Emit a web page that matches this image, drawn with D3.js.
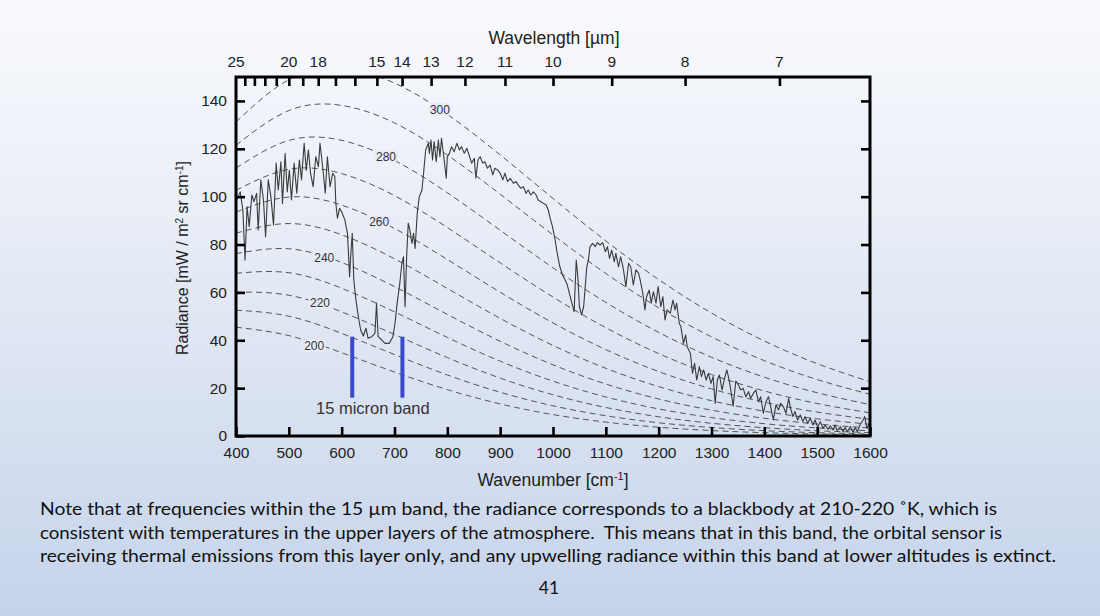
<!DOCTYPE html>
<html>
<head>
<meta charset="utf-8">
<script src="https://cdn.jsdelivr.net/npm/d3@7"></script>
<style>
body { margin: 0; }
svg { display: block; font-family: "Liberation Sans", Arial, sans-serif; }
</style>
</head>
<body>
<svg id="chart" width="1100" height="616"></svg>
<script>
// blackbody curves, sampled every 100 cm-1
var bbNu = [400, 500, 600, 700, 800, 900, 1000, 1100, 1200, 1300, 1400, 1500, 1600];
var bbTemps = [200, 210, 220, 230, 240, 250, 260, 270, 280, 290, 300];
var bb200 = [45.45, 41.95, 34.80, 26.73, 19.37, 13.41, 8.95, 5.80, 3.67, 2.27, 1.38, 0.83, 0.49];
var bb210 = [52.59, 50.06, 42.88, 34.04, 25.50, 18.27, 12.62, 8.46, 5.53, 3.55, 2.23, 1.38, 0.85];
var bb220 = [60.12, 58.82, 51.87, 42.42, 32.76, 24.19, 17.23, 11.92, 8.04, 5.32, 3.45, 2.21, 1.39];
var bb230 = [68.00, 68.22, 61.75, 51.88, 41.18, 31.27, 22.91, 16.30, 11.31, 7.69, 5.14, 3.38, 2.20];
var bb240 = [76.22, 78.22, 72.50, 62.42, 50.81, 39.58, 29.75, 21.72, 15.47, 10.80, 7.40, 5.00, 3.33];
var bb250 = [84.75, 88.77, 84.08, 74.04, 61.66, 49.16, 37.84, 28.28, 20.64, 14.75, 10.36, 7.16, 4.89];
var bb260 = [93.56, 99.86, 96.47, 86.71, 73.76, 60.08, 47.25, 36.10, 26.92, 19.67, 14.12, 9.99, 6.97];
var bb270 = [102.63, 111.44, 109.63, 100.41, 87.08, 72.35, 58.05, 45.25, 34.44, 25.68, 18.82, 13.58, 9.67];
var bb280 = [111.94, 123.49, 123.53, 115.12, 101.64, 86.00, 70.28, 55.83, 43.30, 32.90, 24.57, 18.07, 13.12];
var bb290 = [121.47, 135.97, 138.13, 130.81, 117.42, 101.04, 84.01, 67.90, 53.58, 41.44, 31.49, 23.58, 17.42];
var bb300 = [131.20, 148.87, 153.39, 147.45, 134.40, 117.46, 99.24, 81.51, 65.38, 51.39, 39.71, 30.22, 22.70];

// curve labels
var labelT = [200, 220, 240, 260, 280, 300];
var labelNu = [548, 559, 567, 671, 684, 786];
var labelRad = [37.5, 55.5, 74.5, 89.5, 116.5, 136.5];

// measured spectrum
var specNu = [401,408,413,417,421,425,430,434,439,442,447,452,456,461,466,471,476,480,485,488,493,497,501,505,510,515,520,524,529,533,537,541,546,551,556,559,564,569,573,578,583,587,589,592,596,600,606,611,615,617,620,623,627,632,636,641,646,650,657,663,666,669,676,682,690,697,701,705,710,714,717,720,723,726,729,733,736,739,743,747,752,755,759,764,
  766,769,772,775,779,783,786,789,794,798,800,804,808,813,818,823,827,832,837,842,846,851,854,858,862,867,871,876,881,886,890,895,900,905,909,914,919,925,930,934,939,944,949,953,958,963,968,972,977,982,987,991,994,999,1004,1008,1013,1018,1023,1027,1031,1035,1040,1044,1047,1050,1054,1058,1061,1064,1067,1070,1075,1080,1084,1089,1094,1099,1103,1107,1111,1116,1119,1124,1128,1133,1138,1143,1147,1152,1157,1162,
  1165,1170,1174,1177,1182,1186,1190,1195,1199,1204,1208,1212,1216,1222,1227,1231,1234,1239,1242,1247,1251,1254,1260,1264,1268,1272,1277,1281,1285,1290,1294,1299,1303,1307,1311,1315,1320,1324,1329,1332,1335,1341,1346,1351,1355,1360,1365,1370,1374,1379,1384,1389,1393,1398,1403,1408,1412,1417,1422,1427,1431,1436,1441,1446,1449,1454,1458,1463,1468,1473,1477,1482,1487,1492,1496,1501,1506,1511,1515,1520,1525,1530,1534,1538,1544,1549,1553,1557,1563,1568,1572,1576,1581,1587,1590,1594,1599];
var specRad = [98.6,102,94.4,73.5,95.8,87.5,100.7,97.9,101.4,86.1,107,98.6,83.3,107,100,88.2,114,102.8,114.6,97.2,118,102,111,98.6,114,101.4,115.3,107,122.3,111,119.5,109.8,104.2,116.7,112.5,122.3,112.5,101.4,116.7,104.2,109.8,108.4,97.2,91,95.1,93.7,90.3,84.7,66.6,74.9,84.7,65.2,56.8,49.2,44.3,41.8,45,40.8,41.5,42.9,55.5,41.5,40.1,38.7,38.7,41.5,47.1,55.5,63.8,72.2,74.9,54,74.9,88.9,86.1,80.5,84.7,78.4,93,100,102.8,109.8,119.5,122.3,
  118.1,123.7,115.3,123,114.6,123.7,116.7,124.4,115.3,107.7,116.7,118.1,120.9,118.8,122.3,119.5,120.9,118.1,120.2,116.7,114,116,107.7,115.3,116.7,114,114.6,111.9,113.2,109.1,111.9,111.2,109.8,107,109.8,106.3,107.7,105.6,106.3,104.9,103.5,104.2,101.4,102.8,100.7,102,100.7,98.6,97.9,97.2,96.5,94.4,91.6,87.5,81.9,76.3,70.7,67.3,65.2,63.1,59.6,56.1,51.9,73.5,66.6,54,50.6,54,62.4,70.7,73.5,79.1,80.5,79.1,80.8,79.8,80.8,77,79.1,74.2,77.7,72.8,76.3,70.7,74.9,70,62.4,72.2,70.7,63.1,69.4,68,
  65.2,59.6,52.7,58.2,61,55.5,60.3,55.5,62.4,54,58.2,48.5,52.7,51.3,56.8,52.7,55.5,47.1,45.7,38.7,42.2,37.3,34.6,26.2,30.4,23.4,29,24.8,27.6,23.4,26.2,22,24.8,13.6,23.4,25.5,19.2,23.4,27.6,24.8,21.3,12.5,23,21.3,19.2,19.9,16.4,18.5,15.7,17.8,19.2,14.3,16.4,9.5,14.3,16.4,12.2,6.7,13,10.9,13.7,12.2,9.5,15.7,12.2,8.1,10.2,6.7,8.8,6,8.1,5.3,7.4,4.6,6.7,3.6,6,3.2,4.6,2.8,4.2,2.5,4.6,2.2,3.9,1.8,3.6,1.8,3.9,1.4,3.6,1.8,4.6,6.7,8.1,3.2,5.3];

// axes
var nuTicks = [400, 500, 600, 700, 800, 900, 1000, 1100, 1200, 1300, 1400, 1500, 1600];
var radTicks = [0, 20, 40, 60, 80, 100, 120, 140];
var waveTicks = [24, 23, 22, 21, 20, 19, 18, 17, 16, 15, 14, 13, 12, 11, 10, 9, 8, 7];
var waveLabels = [25, 20, 18, 15, 14, 13, 12, 11, 10, 9, 8, 7];

// 15 micron band markers
var bandNu = [620, 715];
var bandRad = [16, 41.5];

var noteLines = [
  "Note that at frequencies within the 15 \u00b5m band, the radiance corresponds to a blackbody at 210-220 \u02daK, which is",
  "consistent with temperatures in the upper layers of the atmosphere.  This means that in this band, the orbital sensor is",
  "receiving thermal emissions from this layer only, and any upwelling radiance within this band at lower altitudes is extinct."
];
var noteEnds = [997, 1002, 1056];

var svg = d3.select("#chart");

var defs = svg.append("defs");
var grad = defs.append("linearGradient").attr("id", "bg")
  .attr("x1", 0).attr("y1", 0).attr("x2", 0).attr("y2", 1);
grad.append("stop").attr("offset", "0%").attr("stop-color", "#f9fafd");
grad.append("stop").attr("offset", "45%").attr("stop-color", "#e4eaf5");
grad.append("stop").attr("offset", "100%").attr("stop-color", "#c5d3ea");
svg.append("rect").attr("width", 1100).attr("height", 616).attr("fill", "url(#bg)");

var pLeft = 236, pRight = 870, pTop = 77, pBottom = 436;
var x = d3.scaleLinear().domain([400, 1600]).range([pLeft, pRight]);
var y = d3.scaleLinear().domain([0, 150]).range([pBottom, pTop]);

defs.append("clipPath").attr("id", "plot")
  .append("rect").attr("x", pLeft).attr("y", pTop)
  .attr("width", pRight - pLeft).attr("height", pBottom - pTop);

var plot = svg.append("g").attr("clip-path", "url(#plot)");

// blackbody curves
var bbAll = [bb200, bb210, bb220, bb230, bb240, bb250, bb260, bb270, bb280, bb290, bb300];
var bbLine = d3.line()
  .x(function (d, i) { return x(bbNu[i]); })
  .y(function (d) { return y(d); })
  .curve(d3.curveNatural);

plot.selectAll(".bb")
  .data(bbAll).enter()
  .append("path").attr("class", "bb")
  .attr("fill", "none")
  .attr("stroke", "#555")
  .attr("stroke-width", 1)
  .attr("stroke-dasharray", "6,4")
  .attr("d", bbLine);

// measured spectrum
var specLine = d3.line()
  .x(function (d, i) { return x(specNu[i]); })
  .y(function (d) { return y(d); });

plot.append("path")
  .datum(specRad)
  .attr("fill", "none")
  .attr("stroke", "#3a3a3a")
  .attr("stroke-width", 1.1)
  .attr("stroke-linejoin", "round")
  .attr("d", specLine);

// curve labels
plot.selectAll(".tlab")
  .data(labelT).enter()
  .append("text").attr("class", "tlab")
  .attr("x", function (d, i) { return x(labelNu[i]); })
  .attr("y", function (d, i) { return y(labelRad[i]); })
  .attr("dy", "0.35em")
  .attr("text-anchor", "middle")
  .attr("font-size", 12)
  .attr("fill", "#333")
  .attr("stroke", "#e6ebf5")
  .attr("stroke-width", 4)
  .attr("paint-order", "stroke")
  .text(function (d) { return d; });

// band markers
svg.selectAll(".band")
  .data(bandNu).enter()
  .append("line").attr("class", "band")
  .attr("x1", function (d) { return x(d); })
  .attr("x2", function (d) { return x(d); })
  .attr("y1", y(bandRad[0]))
  .attr("y2", y(bandRad[1]))
  .attr("stroke", "#3b47cc")
  .attr("stroke-width", 4);

svg.append("text")
  .attr("x", x(659)).attr("y", y(9))
  .attr("text-anchor", "middle")
  .attr("font-size", 16.5)
  .attr("fill", "#333")
  .text("15 micron band");

// axes
function styleAxis(g) {
  g.select(".domain").remove();
  g.selectAll(".tick line").attr("stroke", "#000").attr("stroke-width", 2.6);
  g.selectAll(".tick text").attr("fill", "#222");
  g.attr("font-size", 15.5).attr("font-family", "Liberation Sans, Arial, sans-serif");
}

svg.append("g")
  .attr("transform", "translate(0," + pBottom + ")")
  .call(d3.axisBottom(x).tickValues(nuTicks).tickSizeInner(-9).tickSizeOuter(0).tickPadding(11).tickFormat(d3.format("d")))
  .call(styleAxis);

svg.append("g")
  .attr("transform", "translate(" + pLeft + ",0)")
  .call(d3.axisLeft(y).tickValues(radTicks).tickSizeInner(-9).tickSizeOuter(0).tickPadding(9))
  .call(styleAxis);

svg.append("g")
  .attr("transform", "translate(" + pRight + ",0)")
  .call(d3.axisRight(y).tickValues(radTicks.slice(1)).tickSizeInner(-9).tickSizeOuter(0).tickFormat(""))
  .call(styleAxis);

svg.append("g")
  .attr("transform", "translate(0," + pTop + ")")
  .call(d3.axisTop(x).tickValues(waveTicks.map(function (w) { return 1e4 / w; }))
    .tickSizeInner(-9).tickSizeOuter(0).tickFormat(""))
  .call(styleAxis);

svg.append("g")
  .attr("transform", "translate(0," + pTop + ")")
  .selectAll("text")
  .data(waveLabels).enter()
  .append("text")
  .attr("x", function (d) { return x(1e4 / d); })
  .attr("y", -10)
  .attr("text-anchor", "middle")
  .attr("font-size", 15.5)
  .attr("fill", "#222")
  .text(function (d) { return d; });

// frame
svg.append("rect")
  .attr("x", pLeft).attr("y", pTop)
  .attr("width", pRight - pLeft).attr("height", pBottom - pTop)
  .attr("fill", "none").attr("stroke", "#000").attr("stroke-width", 3);

// axis titles
svg.append("text")
  .attr("x", 554).attr("y", 44)
  .attr("text-anchor", "middle").attr("font-size", 17.5).attr("fill", "#222")
  .text("Wavelength [\u00b5m]");

var xt = svg.append("text")
  .attr("x", 553).attr("y", 486)
  .attr("text-anchor", "middle").attr("font-size", 17.5).attr("fill", "#222");
xt.append("tspan").text("Wavenumber [cm");
xt.append("tspan").attr("baseline-shift", "super").attr("font-size", 11).text("-1");
xt.append("tspan").text("]");

var yt = svg.append("text")
  .attr("transform", "translate(188,258) rotate(-90)")
  .attr("text-anchor", "middle").attr("font-size", 16).attr("fill", "#222");
yt.append("tspan").text("Radiance [mW / m");
yt.append("tspan").attr("baseline-shift", "super").attr("font-size", 10).text("2");
yt.append("tspan").text(" sr cm");
yt.append("tspan").attr("baseline-shift", "super").attr("font-size", 10).text("-1");
yt.append("tspan").text("]");

// slide note
svg.selectAll(".note")
  .data(noteLines).enter()
  .append("text").attr("class", "note")
  .attr("x", 40)
  .attr("y", function (d, i) { return 515 + i * 23.5; })
  .attr("font-family", "Lato, 'Open Sans', sans-serif")
  .attr("font-size", 17.5)
  .attr("fill", "#111")
  .style("white-space", "pre")
  .attr("textLength", function (d, i) { return noteEnds[i] - 40; })
  .attr("lengthAdjust", "spacingAndGlyphs")
  .text(function (d) { return d; });

svg.append("text")
  .attr("x", 549).attr("y", 594)
  .attr("text-anchor", "middle")
  .attr("font-family", "Lato, 'Open Sans', sans-serif")
  .attr("font-size", 17.5)
  .attr("fill", "#111")
  .text("41");
</script>
</body>
</html>
